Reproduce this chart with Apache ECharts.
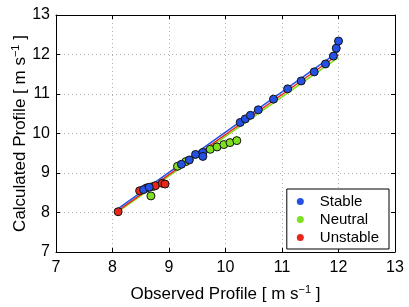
<!DOCTYPE html>
<html><head><meta charset="utf-8">
<script src="https://cdn.jsdelivr.net/npm/echarts@6/dist/echarts.min.js"></script>
<style>html,body{margin:0;padding:0;background:#fff}#c{width:409px;height:307px}</style>
</head><body><div id="c"></div>
<script>
var xTicks = [7, 8, 9, 10, 11, 12, 13];
var yTicks = [7, 8, 9, 10, 11, 12, 13];
var seriesNames = ['Stable', 'Neutral', 'Unstable'];
var stableObs  = [8.55, 8.65, 9.22, 9.36, 9.47, 9.60, 9.60, 10.26, 10.35, 10.44, 10.58, 10.85, 11.10, 11.34, 11.57, 11.77, 11.91, 11.96, 12.00];
var stableCalc = [8.58, 8.64, 9.22, 9.33, 9.47, 9.52, 9.42, 10.28, 10.37, 10.46, 10.60, 10.87, 11.13, 11.33, 11.56, 11.76, 11.96, 12.16, 12.34];
var neutralObs  = [8.68, 8.72, 9.15, 9.30, 9.73, 9.85, 9.97, 10.08, 10.20];
var neutralCalc = [8.42, 8.66, 9.17, 9.29, 9.60, 9.66, 9.72, 9.77, 9.82];
var unstableObs  = [8.10, 8.48, 8.60, 8.76, 8.88, 8.93];
var unstableCalc = [8.02, 8.55, 8.62, 8.68, 8.74, 8.72];
var fitX = [8.1, 12.0];
var stableFit   = [8.10, 12.07];
var neutralFit  = [8.02, 11.93];
var unstableFit = [8.05, 12.00];
var colors = ['#2450e6', '#7ee01e', '#e8261a'];

function pairs(a, b) { return a.map(function (v, i) { return [v, b[i]]; }); }

var chart = echarts.init(document.getElementById('c'));
var font = 'Liberation Sans, Arial, Helvetica, sans-serif';
var rich = { sup: { fontSize: 11, fontFamily: font, color: '#000', padding: [0, 0, 9, 0] }, n: { fontSize: 17, fontFamily: font, color: '#000' } };
function axisCommon(show) {
  return {
    min: 7, max: 13, interval: 1,
    axisLine: { show: true, lineStyle: { color: '#000', width: 1 } },
    axisTick: { show: true, inside: true, length: 4, lineStyle: { color: '#000' } },
    axisLabel: { show: show, color: '#000', fontSize: 15, fontFamily: font },
    splitLine: { show: show, lineStyle: { color: '#b0b0b0', type: [1, 3], width: 1 } }
  };
}
var xMain = Object.assign(axisCommon(true), {
  type: 'value', position: 'bottom',
  name: '{n|Observed Profile [ m s}{sup|−1}{n| ]}', nameLocation: 'middle', nameGap: 32, nameMoveOverlap: false,
  nameTextStyle: { rich: rich }, axisLabel: { color: '#000', fontSize: 16, fontFamily: font, margin: 8 }
});
var xTop = Object.assign(axisCommon(false), { type: 'value', position: 'top' });
var yMain = Object.assign(axisCommon(true), {
  type: 'value', position: 'left',
  name: '{n|Calculated Profile [ m s}{sup|−1}{n| ]}', nameLocation: 'middle', nameGap: 26, nameMoveOverlap: false,
  nameTextStyle: { rich: rich }, axisLabel: { color: '#000', fontSize: 16, fontFamily: font, margin: 6 }
});
var yRight = Object.assign(axisCommon(false), { type: 'value', position: 'right' });

function lineSeries(name, ys, color) {
  return { type: 'line', name: name + ' fit', data: pairs(fitX, ys), showSymbol: false, symbol: 'none',
    lineStyle: { color: color, width: 1.5 }, z: 2, silent: true };
}
function scatterSeries(name, xs, ys, color) {
  return { type: 'scatter', name: name, data: pairs(xs, ys), symbol: 'circle', symbolSize: 8,
    itemStyle: { color: color, borderColor: '#111', borderWidth: 1, opacity: 1 }, z: 3 };
}

chart.setOption({
  animation: false,
  backgroundColor: '#fff',
  grid: { left: 56, right: 14, top: 15, bottom: 55, outerBoundsMode: 'none', containLabel: false },
  xAxis: [xMain, xTop],
  yAxis: [yMain, yRight],
  legend: {
    data: [
      { name: 'Stable', itemStyle: { color: colors[0], borderWidth: 0 } },
      { name: 'Neutral', itemStyle: { color: colors[1], borderWidth: 0 } },
      { name: 'Unstable', itemStyle: { color: colors[2], borderWidth: 0 } }
    ],
    orient: 'vertical', right: 20, bottom: 58,
    icon: 'circle', itemWidth: 7, itemHeight: 7, itemGap: 3,
    backgroundColor: '#fff', borderColor: '#000', borderWidth: 1, borderRadius: 0,
    padding: [5, 10, 4, 10],
    textStyle: { color: '#000', fontSize: 15, fontFamily: font, padding: [0, 0, 0, 11] }
  },
  series: [
    lineSeries('Neutral', neutralFit, colors[1]),
    lineSeries('Unstable', unstableFit, colors[2]),
    lineSeries('Stable', stableFit, colors[0]),
    scatterSeries(seriesNames[1], neutralObs, neutralCalc, colors[1]),
    scatterSeries(seriesNames[2], unstableObs, unstableCalc, colors[2]),
    scatterSeries(seriesNames[0], stableObs, stableCalc, colors[0])
  ]
});
</script></body></html>
